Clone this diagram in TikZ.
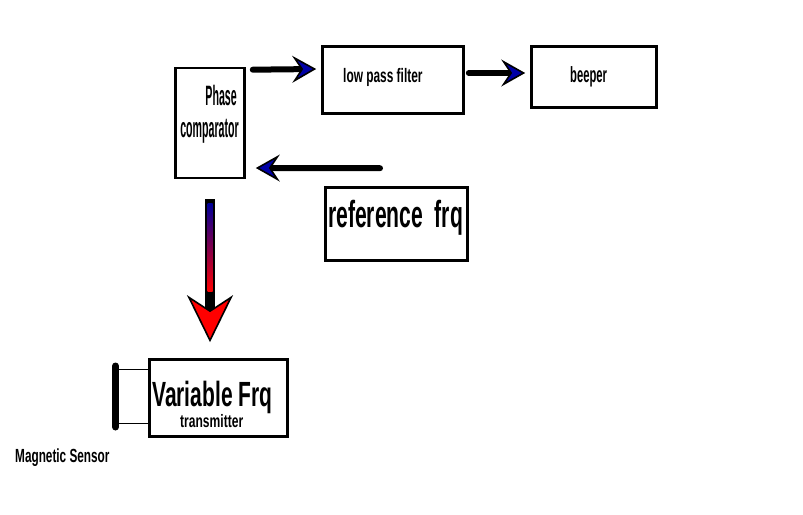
\documentclass[tikz,border=0pt]{standalone}
\usepackage{fontspec}
\usepackage{graphicx}
\setmainfont{Liberation Sans}
\usetikzlibrary{arrows.meta}
\newcommand{\lbl}[3]{\fontsize{#2}{#2}\selectfont\scalebox{#1}[1]{#3}}
\tikzset{
    box/.style={draw,line width=2.6pt,inner sep=0pt},
    txt/.style={anchor=base west,inner sep=0pt,font=\bfseries},
    fat/.style={line width=6pt,line cap=round,
        -{Stealth[length=24pt,width=27pt,inset=9pt,line width=1.6pt,fill=blue!65!black]}}
}
\begin{document}
\begin{tikzpicture}[x=1pt,y=-1pt]
                \useasboundingbox (0,0) rectangle (803,514);

                \node[box,minimum width=69pt,minimum height=110pt] (pc) at (210,123) {};
                \node[box,minimum width=141pt,minimum height=67pt] (lpf) at (393,80) {};
                \node[box,minimum width=125pt,minimum height=61pt] (beeper) at (594,77) {};
                \node[box,minimum width=142pt,minimum height=73pt] (ref) at (396.5,224) {};
                \node[box,minimum width=138pt,minimum height=77pt] (vf) at (218.5,398) {};

                \node[txt,anchor=base east] (pcone) at (237,105) {\lbl{0.38}{28}{Phase}};
                \node[txt,anchor=base east] (pctwo) at (239,137) {\lbl{0.38}{28}{comparator}};
                \node[txt] (lpftext) at (343,82) {\lbl{0.61}{19.5}{low pass filter}};
                \node[txt] (beepertext) at (570,82) {\lbl{0.51}{22}{beeper}};
                \node[txt] (reftext) at (328,227) {\lbl{0.56}{37.7}{reference~~frq}};
                \node[txt] (vfone) at (152,406) {\lbl{0.6}{35}{Variable Frq}};
                \node[txt] (vftwo) at (180,427) {\lbl{0.67}{18}{transmitter}};
                \node[txt] (mstext) at (15,462) {\lbl{0.62}{19}{Magnetic Sensor}};

                \coordinate (msone) at (119,369);
                \coordinate (mstwo) at (119,423);
                \draw[line width=7pt,line cap=round] (115.5,366) -- (115.5,427);
                \draw[line width=0.8pt] (msone) -- (msone -| vf.west);
                \draw[line width=0.8pt] (mstwo) -- (mstwo -| vf.west);

                \draw[fat] ([xshift=7pt,yshift=-3pt]pc.north east) -- ([xshift=-5pt,yshift=11pt]lpf.west);
                \draw[fat] ([xshift=4pt,yshift=7pt]lpf.east) -- ([xshift=-5pt,yshift=4pt]beeper.west);
                \draw[fat] ([xshift=-16.5pt,yshift=18pt]ref.north) -- ([xshift=10pt,yshift=-45pt]pc.east);

                \draw[line width=10pt,
                    -{Stealth[length=47pt,width=46pt,inset=15pt,line width=1.6pt,fill=red]}]
                    ([yshift=-20pt]pc.south) -- ([xshift=-8.5pt,yshift=16pt]vf.north);
                \shade[top color=blue!60!black,middle color=yellow!90!orange,bottom color=red]
                    ([xshift=-2.5pt,yshift=-24pt]pc.south) rectangle ([xshift=2.5pt,yshift=-112pt]pc.south);

            \end{tikzpicture}
\end{document}
